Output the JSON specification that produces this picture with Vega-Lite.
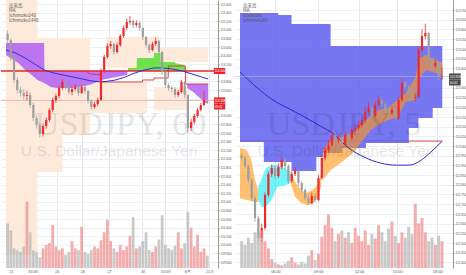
{
"$schema": "https://vega.github.io/schema/vega-lite/v6.json",
"autosize": {"type": "pad"},
"padding": 0,
"background": "white",
"spacing": 0,
"config": {"view": {"stroke": null}, "font": "Liberation Sans", "axis": {"labelOverlap": false, "labelFlush": false, "labelBound": false}},
"datasets": {
"L": [
{"i":0,"o":114.9,"c":114.763,"h":114.98,"l":114.70,"v":50},
{"i":1,"o":114.763,"c":114.344,"h":114.80,"l":114.28,"v":42},
{"i":2,"o":114.344,"c":113.833,"h":114.40,"l":113.76,"v":22},
{"i":3,"o":113.833,"c":113.6,"h":113.90,"l":113.52,"v":20},
{"i":4,"o":113.6,"c":113.53,"h":113.68,"l":113.45,"v":18},
{"i":5,"o":113.53,"c":113.46,"h":113.62,"l":113.38,"v":24},
{"i":6,"o":113.46,"c":113.484,"h":113.58,"l":113.36,"v":74},
{"i":7,"o":113.484,"c":113.251,"h":113.55,"l":113.18,"v":40},
{"i":8,"o":113.251,"c":112.949,"h":113.30,"l":112.88,"v":20},
{"i":9,"o":112.949,"c":112.786,"h":113.02,"l":112.70,"v":18},
{"i":10,"o":112.786,"c":112.577,"h":112.84,"l":112.50,"v":12},
{"i":11,"o":112.577,"c":112.763,"h":112.82,"l":112.52,"v":22},
{"i":12,"o":112.763,"c":112.902,"h":112.96,"l":112.70,"v":26},
{"i":13,"o":112.902,"c":113.135,"h":113.18,"l":112.86,"v":28},
{"i":14,"o":113.135,"c":113.367,"h":113.42,"l":113.08,"v":48},
{"i":15,"o":113.367,"c":113.46,"h":113.52,"l":113.30,"v":24},
{"i":16,"o":113.46,"c":113.646,"h":113.70,"l":113.40,"v":20},
{"i":17,"o":113.646,"c":113.786,"h":113.86,"l":113.60,"v":22},
{"i":18,"o":113.786,"c":113.67,"h":113.82,"l":113.62,"v":15},
{"i":19,"o":113.67,"c":113.553,"h":113.72,"l":113.50,"v":18},
{"i":20,"o":113.553,"c":113.623,"h":113.68,"l":113.48,"v":30},
{"i":21,"o":113.623,"c":113.67,"h":113.74,"l":113.58,"v":22},
{"i":22,"o":113.67,"c":113.53,"h":113.70,"l":113.46,"v":20},
{"i":23,"o":113.53,"c":113.67,"h":113.72,"l":113.50,"v":46},
{"i":24,"o":113.67,"c":113.577,"h":113.71,"l":113.52,"v":18},
{"i":25,"o":113.577,"c":113.344,"h":113.60,"l":113.28,"v":16},
{"i":26,"o":113.344,"c":113.205,"h":113.38,"l":113.14,"v":20},
{"i":27,"o":113.205,"c":113.274,"h":113.33,"l":113.16,"v":24},
{"i":28,"o":113.274,"c":113.367,"h":113.42,"l":113.22,"v":22},
{"i":29,"o":113.367,"c":114.065,"h":114.10,"l":113.34,"v":31},
{"i":30,"o":114.065,"c":114.367,"h":114.42,"l":114.00,"v":40},
{"i":31,"o":114.367,"c":114.623,"h":114.68,"l":114.33,"v":54},
{"i":32,"o":114.623,"c":114.67,"h":114.74,"l":114.56,"v":30},
{"i":33,"o":114.67,"c":114.484,"h":114.70,"l":114.42,"v":22},
{"i":34,"o":114.484,"c":114.646,"h":114.70,"l":114.45,"v":18},
{"i":35,"o":114.646,"c":114.856,"h":114.90,"l":114.60,"v":26},
{"i":36,"o":114.856,"c":115.042,"h":115.10,"l":114.82,"v":20},
{"i":37,"o":115.042,"c":115.181,"h":115.26,"l":115.00,"v":24},
{"i":38,"o":115.181,"c":115.205,"h":115.32,"l":115.12,"v":36},
{"i":39,"o":115.205,"c":115.112,"h":115.24,"l":115.04,"v":57},
{"i":40,"o":115.112,"c":115.158,"h":115.22,"l":115.06,"v":22},
{"i":41,"o":115.158,"c":115.042,"h":115.20,"l":114.98,"v":24},
{"i":42,"o":115.042,"c":114.833,"h":115.06,"l":114.76,"v":30},
{"i":43,"o":114.833,"c":114.646,"h":114.86,"l":114.58,"v":40},
{"i":44,"o":114.646,"c":114.53,"h":114.68,"l":114.46,"v":20},
{"i":45,"o":114.53,"c":114.67,"h":114.72,"l":114.50,"v":18},
{"i":46,"o":114.67,"c":114.74,"h":114.82,"l":114.62,"v":24},
{"i":47,"o":114.74,"c":114.484,"h":114.76,"l":114.42,"v":32},
{"i":48,"o":114.484,"c":114.019,"h":114.50,"l":113.95,"v":59},
{"i":49,"o":114.019,"c":113.716,"h":114.05,"l":113.64,"v":26},
{"i":50,"o":113.716,"c":113.646,"h":113.76,"l":113.58,"v":22},
{"i":51,"o":113.646,"c":113.623,"h":113.70,"l":113.55,"v":20},
{"i":52,"o":113.623,"c":113.484,"h":113.66,"l":113.42,"v":25},
{"i":53,"o":113.484,"c":113.553,"h":113.60,"l":113.44,"v":40},
{"i":54,"o":113.553,"c":113.786,"h":113.84,"l":113.52,"v":22},
{"i":55,"o":113.786,"c":113.484,"h":113.80,"l":113.40,"v":28},
{"i":56,"o":113.484,"c":112.716,"h":113.50,"l":112.60,"v":63},
{"i":57,"o":112.716,"c":112.856,"h":112.92,"l":112.64,"v":45},
{"i":58,"o":112.856,"c":112.995,"h":113.05,"l":112.80,"v":24},
{"i":59,"o":112.995,"c":113.135,"h":113.18,"l":112.95,"v":37},
{"i":60,"o":113.135,"c":113.251,"h":113.30,"l":113.10,"v":18},
{"i":61,"o":113.251,"c":113.367,"h":113.58,"l":113.22,"v":22},
{"i":62,"o":113.367,"c":113.358,"h":113.40,"l":113.30,"v":14}
],
"R": [
{"j":0,"o":112.95,"c":112.938,"h":112.965,"l":112.925,"v":30},
{"j":1,"o":112.938,"c":112.896,"h":112.95,"l":112.885,"v":26},
{"j":2,"o":112.896,"c":112.824,"h":112.905,"l":112.81,"v":34},
{"j":3,"o":112.824,"c":112.731,"h":112.835,"l":112.715,"v":28},
{"j":4,"o":112.731,"c":112.628,"h":112.745,"l":112.61,"v":40},
{"j":5,"o":112.628,"c":112.525,"h":112.64,"l":112.51,"v":38},
{"j":6,"o":112.525,"c":112.577,"h":112.6,"l":112.505,"v":42},
{"j":7,"o":112.577,"c":112.747,"h":112.76,"l":112.565,"v":30},
{"j":8,"o":112.747,"c":112.855,"h":112.87,"l":112.735,"v":22},
{"j":9,"o":112.855,"c":112.886,"h":112.905,"l":112.84,"v":10},
{"j":10,"o":112.886,"c":112.845,"h":112.9,"l":112.83,"v":6},
{"j":11,"o":112.845,"c":112.891,"h":112.91,"l":112.835,"v":4},
{"j":12,"o":112.891,"c":112.927,"h":112.945,"l":112.88,"v":3},
{"j":13,"o":112.927,"c":112.896,"h":112.94,"l":112.88,"v":5},
{"j":14,"o":112.896,"c":112.819,"h":112.905,"l":112.805,"v":8},
{"j":15,"o":112.819,"c":112.855,"h":112.87,"l":112.81,"v":12},
{"j":16,"o":112.855,"c":112.871,"h":112.89,"l":112.845,"v":6},
{"j":17,"o":112.871,"c":112.809,"h":112.88,"l":112.795,"v":4},
{"j":18,"o":112.809,"c":112.773,"h":112.82,"l":112.76,"v":7},
{"j":19,"o":112.773,"c":112.731,"h":112.785,"l":112.72,"v":5},
{"j":20,"o":112.731,"c":112.706,"h":112.75,"l":112.695,"v":14},
{"j":21,"o":112.706,"c":112.742,"h":112.76,"l":112.7,"v":20},
{"j":22,"o":112.742,"c":112.721,"h":112.755,"l":112.71,"v":9},
{"j":23,"o":112.721,"c":112.835,"h":112.85,"l":112.715,"v":16},
{"j":24,"o":112.835,"c":112.938,"h":112.95,"l":112.825,"v":35},
{"j":25,"o":112.938,"c":112.979,"h":112.995,"l":112.925,"v":48},
{"j":26,"o":112.979,"c":113.005,"h":113.03,"l":112.965,"v":60},
{"j":27,"o":113.005,"c":113.056,"h":113.08,"l":112.995,"v":45},
{"j":28,"o":113.056,"c":113.03,"h":113.07,"l":113.015,"v":30},
{"j":29,"o":113.03,"c":113.04,"h":113.06,"l":113.015,"v":38},
{"j":30,"o":113.04,"c":113.005,"h":113.05,"l":112.99,"v":42},
{"j":31,"o":113.005,"c":113.056,"h":113.075,"l":112.995,"v":34},
{"j":32,"o":113.056,"c":113.041,"h":113.07,"l":113.025,"v":40},
{"j":33,"o":113.041,"c":113.082,"h":113.1,"l":113.03,"v":28},
{"j":34,"o":113.082,"c":113.092,"h":113.11,"l":113.07,"v":45},
{"j":35,"o":113.092,"c":113.108,"h":113.13,"l":113.08,"v":36},
{"j":36,"o":113.108,"c":113.133,"h":113.15,"l":113.095,"v":30},
{"j":37,"o":113.133,"c":113.175,"h":113.2,"l":113.12,"v":42},
{"j":38,"o":113.175,"c":113.195,"h":113.225,"l":113.16,"v":26},
{"j":39,"o":113.195,"c":113.154,"h":113.205,"l":113.14,"v":38},
{"j":40,"o":113.154,"c":113.211,"h":113.23,"l":113.145,"v":33},
{"j":41,"o":113.211,"c":113.237,"h":113.26,"l":113.2,"v":48},
{"j":42,"o":113.237,"c":113.216,"h":113.25,"l":113.2,"v":40},
{"j":43,"o":113.216,"c":113.185,"h":113.225,"l":113.17,"v":30},
{"j":44,"o":113.185,"c":113.17,"h":113.2,"l":113.155,"v":44},
{"j":45,"o":113.17,"c":113.185,"h":113.205,"l":113.16,"v":52},
{"j":46,"o":113.185,"c":113.144,"h":113.195,"l":113.13,"v":36},
{"j":47,"o":113.144,"c":113.237,"h":113.25,"l":113.135,"v":28},
{"j":48,"o":113.237,"c":113.324,"h":113.345,"l":113.225,"v":40},
{"j":49,"o":113.324,"c":113.304,"h":113.335,"l":113.29,"v":34},
{"j":50,"o":113.304,"c":113.288,"h":113.315,"l":113.27,"v":46},
{"j":51,"o":113.288,"c":113.247,"h":113.3,"l":113.235,"v":38},
{"j":52,"o":113.247,"c":113.252,"h":113.27,"l":113.23,"v":72},
{"j":53,"o":113.252,"c":113.494,"h":113.51,"l":113.245,"v":50},
{"j":54,"o":113.494,"c":113.566,"h":113.6,"l":113.48,"v":56},
{"j":55,"o":113.566,"c":113.582,"h":113.63,"l":113.55,"v":40},
{"j":56,"o":113.582,"c":113.443,"h":113.59,"l":113.43,"v":30},
{"j":57,"o":113.443,"c":113.412,"h":113.455,"l":113.395,"v":34},
{"j":58,"o":113.412,"c":113.427,"h":113.445,"l":113.4,"v":26},
{"j":59,"o":113.427,"c":113.355,"h":113.435,"l":113.335,"v":36},
{"j":60,"o":113.355,"c":113.358,"h":113.405,"l":113.34,"v":30}
],
"Lpeach": [
{"x1":-0.5,"x2":9.28,"t":115.693,"b":109.763},
{"x1":9.28,"x2":16.98,"t":114.809,"b":111.693},
{"x1":16.98,"x2":25.57,"t":114.809,"b":112.553},
{"x1":25.57,"x2":43.35,"t":113.786,"b":113.065},
{"x1":30.61,"x2":47.5,"t":114.833,"b":114.112},
{"x1":42.46,"x2":62.31,"t":114.577,"b":114.251},
{"x1":45.43,"x2":56.39,"t":113.67,"b":113.135}
],
"Lpurple": [
{"seg":"a","x":-0.5,"t":114.693,"b":114.414},
{"seg":"a","x":3.35,"t":114.693,"b":114.228},
{"seg":"a","x":5.43,"t":114.693,"b":114.065},
{"seg":"a","x":7.5,"t":114.693,"b":113.949},
{"seg":"a","x":9.28,"t":114.693,"b":113.833},
{"seg":"a","x":11.35,"t":114.693,"b":113.763},
{"seg":"a","x":11.44,"t":114.042,"b":113.763},
{"seg":"a","x":13.43,"t":114.042,"b":113.67},
{"seg":"a","x":15.2,"t":114.042,"b":113.647},
{"seg":"a","x":19.35,"t":114.042,"b":113.647},
{"seg":"a","x":22.31,"t":114.042,"b":113.67},
{"seg":"a","x":25.28,"t":114.042,"b":113.716},
{"seg":"a","x":27.06,"t":114.042,"b":113.763},
{"seg":"a","x":29.13,"t":114.042,"b":113.833},
{"seg":"a","x":32.09,"t":114.042,"b":113.879},
{"seg":"a","x":37.13,"t":114.042,"b":113.949},
{"seg":"b","x":55.8,"t":113.74,"b":113.647},
{"seg":"b","x":57.57,"t":113.74,"b":113.56},
{"seg":"b","x":59.35,"t":113.74,"b":113.437},
{"seg":"b","x":61.13,"t":113.74,"b":113.321},
{"seg":"b","x":62.31,"t":113.74,"b":113.274}
],
"Lgreen": [
{"x":37.43,"t":114.112,"b":114.042},
{"x":40.09,"t":114.112,"b":114.042},
{"x":40.18,"t":114.344,"b":114.042},
{"x":45.43,"t":114.344,"b":114.042},
{"x":45.51,"t":114.46,"b":114.042},
{"x":47.5,"t":114.46,"b":114.042},
{"x":47.59,"t":114.251,"b":114.042},
{"x":51.94,"t":114.251,"b":114.042},
{"x":52.03,"t":114.228,"b":114.042},
{"x":54.91,"t":114.181,"b":114.042},
{"x":55.5,"t":114.042,"b":114.042}
],
"Lred": [
{"x":24.69,"p":114.019},{"x":25.57,"p":113.972},{"x":29.13,"p":113.949},{"x":29.22,"p":113.786},
{"x":41.87,"p":113.786},{"x":41.96,"p":113.833},{"x":45.43,"p":113.833},{"x":45.51,"p":113.879},
{"x":49.87,"p":113.879},{"x":49.96,"p":114.158},{"x":55.2,"p":114.158},{"x":55.29,"p":113.74},
{"x":62.31,"p":113.74}
],
"Lma": [
{"x":-0.5,"p":114.53},{"x":2.46,"p":114.46},{"x":5.43,"p":114.344},{"x":8.39,"p":114.205},
{"x":11.35,"p":114.065},{"x":14.31,"p":113.995},{"x":17.28,"p":113.949},{"x":20.24,"p":113.902},
{"x":23.2,"p":113.856},{"x":26.17,"p":113.809},{"x":29.13,"p":113.786},{"x":31.5,"p":113.809},
{"x":33.57,"p":113.833},{"x":36.54,"p":113.902},{"x":39.5,"p":113.995},{"x":42.46,"p":114.065},
{"x":45.43,"p":114.112},{"x":48.39,"p":114.112},{"x":51.35,"p":114.088},{"x":54.31,"p":114.042},
{"x":57.28,"p":113.972},{"x":60.24,"p":113.902},{"x":62.31,"p":113.856}
],
"Rblue": [
{"x":-0.5,"t":113.685,"b":113.02},
{"x":6.64,"t":113.685,"b":112.917},
{"x":10.93,"t":113.675,"b":112.917},
{"x":14.93,"t":113.628,"b":112.871},
{"x":22.36,"t":113.628,"b":112.943},
{"x":24.36,"t":113.628,"b":112.963},
{"x":26.64,"t":113.515,"b":112.963},
{"x":30.07,"t":113.515,"b":112.989},
{"x":37.21,"t":113.515,"b":113.015},
{"x":50.07,"t":113.515,"b":113.092},
{"x":52.93,"t":113.515,"b":113.144},
{"x":57.21,"t":113.515,"b":113.195},
{"x":60.07,"t":113.515,"b":113.195}
],
"Rorange": [
{"seg":"a","x":-0.5,"t":112.989,"b":112.731},
{"seg":"a","x":1.5,"t":112.979,"b":112.721},
{"seg":"a","x":2.93,"t":112.927,"b":112.716},
{"seg":"a","x":3.79,"t":112.84,"b":112.711},
{"seg":"a","x":4.93,"t":112.773,"b":112.711},
{"seg":"b","x":14.64,"t":112.865,"b":112.809},
{"seg":"b","x":16.07,"t":112.814,"b":112.737},
{"seg":"b","x":17.79,"t":112.773,"b":112.706},
{"seg":"b","x":19.5,"t":112.757,"b":112.695},
{"seg":"b","x":21.21,"t":112.773,"b":112.7},
{"seg":"b","x":22.64,"t":112.798,"b":112.731},
{"seg":"b","x":23.79,"t":112.85,"b":112.788},
{"seg":"c","x":24.36,"t":112.979,"b":112.824},
{"seg":"c","x":26.64,"t":113.03,"b":112.876},
{"seg":"c","x":30.07,"t":113.046,"b":112.917},
{"seg":"c","x":33.5,"t":113.066,"b":112.968},
{"seg":"c","x":36.36,"t":113.123,"b":113.03},
{"seg":"c","x":38.64,"t":113.154,"b":113.082},
{"seg":"c","x":40.93,"t":113.185,"b":113.108},
{"seg":"c","x":43.79,"t":113.195,"b":113.133},
{"seg":"c","x":46.64,"t":113.237,"b":113.149},
{"seg":"c","x":49.21,"t":113.273,"b":113.226},
{"seg":"c","x":52.07,"t":113.355,"b":113.237},
{"seg":"c","x":53.21,"t":113.453,"b":113.35},
{"seg":"c","x":55.21,"t":113.468,"b":113.391},
{"seg":"c","x":57.21,"t":113.453,"b":113.381},
{"seg":"c","x":60.07,"t":113.427,"b":113.365}
],
"Rcyan": [
{"x":4.93,"t":112.788,"b":112.721},
{"x":6.07,"t":112.834,"b":112.685},
{"x":7.21,"t":112.886,"b":112.685},
{"x":8.93,"t":112.901,"b":112.721},
{"x":10.64,"t":112.901,"b":112.788},
{"x":12.93,"t":112.886,"b":112.798},
{"x":14.64,"t":112.865,"b":112.809}
],
"Rma": [
{"x":-0.5,"p":113.381},{"x":8.07,"p":113.252},{"x":17.79,"p":113.159},{"x":23.5,"p":113.103},
{"x":27.21,"p":113.066},{"x":32.07,"p":112.989},{"x":36.64,"p":112.943},{"x":41.5,"p":112.912},
{"x":46.36,"p":112.901},{"x":50.07,"p":112.901},{"x":53.79,"p":112.927},{"x":56.64,"p":112.968},
{"x":60.07,"p":113.025}
]
},
"hconcat": [
{
"width": 217, "height": 268,
"resolve": {"scale": {"y": "independent"}},
"layer": [
{
"layer": [
{"data": {"name": "Lpeach"}, "mark": {"type": "rect", "color": "#fdeadb"},
 "encoding": {"x": {"field": "x1", "type": "quantitative", "scale": {"domain": [-0.5, 63.8], "nice": false, "zero": false}}, "x2": {"field": "x2"},
  "y": {"field": "t", "type": "quantitative", "scale": {"domain": [109.46, 115.693], "nice": false, "zero": false}}, "y2": {"field": "b"}}},
{"data": {"name": "Lgreen"}, "mark": {"type": "area", "color": "#5fe03c", "opacity": 0.9},
 "encoding": {"x": {"field": "x", "type": "quantitative", "scale": {"domain": [-0.5, 63.8], "nice": false, "zero": false}}, "y": {"field": "t", "type": "quantitative", "scale": {"domain": [109.46, 115.693], "nice": false, "zero": false}}, "y2": {"field": "b"}}},
{"data": {"name": "Lpurple"}, "mark": {"type": "area", "color": "#a64df5", "opacity": 0.75},
 "encoding": {"x": {"field": "x", "type": "quantitative", "scale": {"domain": [-0.5, 63.8], "nice": false, "zero": false}}, "y": {"field": "t", "type": "quantitative", "scale": {"domain": [109.46, 115.693], "nice": false, "zero": false}}, "y2": {"field": "b"}, "detail": {"field": "seg"}}},
{"data": {"values": [{"label": "USDJPY, 60"}]}, "mark": {"type": "text", "font": "Liberation Sans Narrow", "fontSize": 34, "color": "#000000", "opacity": 0.09, "align": "center", "baseline": "middle"},
 "encoding": {"text": {"field": "label"}, "x": {"datum": 35.06, "type": "quantitative", "scale": {"domain": [-0.5, 63.8], "nice": false, "zero": false}}, "y": {"datum": 112.786, "type": "quantitative", "scale": {"domain": [109.46, 115.693], "nice": false, "zero": false}}}},
{"data": {"values": [{"label": "U.S. Dollar/Japanese Yen"}]}, "mark": {"type": "text", "font": "Liberation Sans", "fontSize": 15.5, "color": "#000000", "opacity": 0.09, "align": "center", "baseline": "middle"},
 "encoding": {"text": {"field": "label"}, "x": {"datum": 31.5, "type": "quantitative", "scale": {"domain": [-0.5, 63.8], "nice": false, "zero": false}}, "y": {"datum": 112.181, "type": "quantitative", "scale": {"domain": [109.46, 115.693], "nice": false, "zero": false}}}},
{"data": {"values": [{}]}, "mark": {"type": "rule", "color": "#e8262a", "strokeWidth": 1.6}, "encoding": {"y": {"datum": 114.042, "type": "quantitative", "scale": {"domain": [109.46, 115.693], "nice": false, "zero": false}}}},
{"data": {"values": [{}]}, "mark": {"type": "rule", "color": "#f6b3b3", "strokeWidth": 1}, "encoding": {"y": {"datum": 113.358, "type": "quantitative", "scale": {"domain": [109.46, 115.693], "nice": false, "zero": false}}}},
{"data": {"name": "Lred"}, "mark": {"type": "line", "color": "#e0303a", "strokeWidth": 0.9},
 "encoding": {"x": {"field": "x", "type": "quantitative", "scale": {"domain": [-0.5, 63.8], "nice": false, "zero": false}}, "y": {"field": "p", "type": "quantitative", "scale": {"domain": [109.46, 115.693], "nice": false, "zero": false}}}},
{"data": {"name": "Lma"}, "mark": {"type": "line", "color": "#3030d8", "strokeWidth": 1},
 "encoding": {"x": {"field": "x", "type": "quantitative", "scale": {"domain": [-0.5, 63.8], "nice": false, "zero": false}}, "y": {"field": "p", "type": "quantitative", "scale": {"domain": [109.46, 115.693], "nice": false, "zero": false}}}},
{"data": {"name": "L"}, "mark": {"type": "rule", "strokeWidth": 0.8},
 "encoding": {
  "x": {"field": "i", "type": "quantitative", "scale": {"domain": [-0.5, 63.8], "nice": false, "zero": false}, "axis": {"title": null, "tickCount": 200, "values": [1, 7.8, 15.2, 23.2, 31.5, 41.9, 49, 55.8, 62.6], "labelExpr": "['23','03:00','25','26','27','30','03:00','6月','21:0'][indexof([1,7.8,15.2,23.2,31.5,41.9,49,55.8,62.6], datum.value)]", "grid": true, "gridColor": "#e2e7f0", "ticks": false, "domain": false, "labelFontSize": 3.8, "labelColor": "#555555", "labelPadding": 1, "labelFlush": false, "labelOverlap": false, "labelFont": "Noto Sans CJK JP"}},
  "y": {"field": "l", "type": "quantitative", "scale": {"domain": [109.46, 115.693], "nice": false, "zero": false}, "axis": {"title": null, "orient": "right", "tickCount": 200, "values": [109.6,109.8,110,110.2,110.4,110.6,110.8,111,111.2,111.4,111.6,111.8,112,112.2,112.4,112.6,112.8,113,113.2,113.4,113.6,113.8,114,114.2,114.4,114.6,114.8,115,115.2,115.4,115.6], "format": ".3f", "labelExpr": "indexof([114,113.4,113.2], datum.value) >= 0 ? '' : datum.label", "grid": true, "gridColor": "#edf0f5", "labelFontSize": 3.1, "labelColor": "#555555", "labelOverlap": false, "labelBound": false, "labelFlush": false, "tickSize": 1.2, "tickColor": "#999999", "domainColor": "#999999", "labelPadding": 0.8, "minExtent": 16, "maxExtent": 16}},
  "y2": {"field": "h"},
  "color": {"condition": {"test": "datum.c >= datum.o", "value": "#f0282d"}, "value": "#9e9e9e"}}},
{"data": {"name": "L"}, "mark": {"type": "bar", "size": 2.2},
 "encoding": {"x": {"field": "i", "type": "quantitative", "scale": {"domain": [-0.5, 63.8], "nice": false, "zero": false}}, "y": {"field": "o", "type": "quantitative", "scale": {"domain": [109.46, 115.693], "nice": false, "zero": false}}, "y2": {"field": "c"},
  "color": {"condition": {"test": "datum.c >= datum.o", "value": "#f0282d"}, "value": "#9e9e9e"}}},
{"data": {"values": [{"t": "114.040", "p": 114.042}, {"t": "113.358", "p": 113.358}, {"t": "59:42", "p": 113.216}]},
 "layer": [
  {"mark": {"type": "rect", "color": "#e8262a", "yOffset": -3, "y2Offset": 3}, "encoding": {"x": {"datum": 64.1, "type": "quantitative", "scale": {"domain": [-0.5, 63.8], "nice": false, "zero": false}}, "x2": {"datum": 67.6}, "y": {"field": "p", "type": "quantitative", "scale": {"domain": [109.46, 115.693], "nice": false, "zero": false}}, "y2": {"field": "p"}}},
  {"mark": {"type": "text", "color": "white", "fontSize": 3.1, "align": "left", "baseline": "middle"}, "encoding": {"x": {"datum": 64.3, "type": "quantitative", "scale": {"domain": [-0.5, 63.8], "nice": false, "zero": false}}, "y": {"field": "p", "type": "quantitative", "scale": {"domain": [109.46, 115.693], "nice": false, "zero": false}}, "text": {"field": "t"}}}
 ]},
{"data": {"values": [{}]}, "mark": {"type": "text", "text": ["出来高", "MA", "Ichimoku240", "Ichimoku1440"], "font": "Noto Sans CJK JP", "fontSize": 4.5, "lineHeight": 5.3, "color": "#555555", "align": "left", "baseline": "top", "dx": 3, "dy": 2.5},
 "encoding": {"x": {"datum": -0.5, "type": "quantitative", "scale": {"domain": [-0.5, 63.8], "nice": false, "zero": false}}, "y": {"datum": 115.693, "type": "quantitative", "scale": {"domain": [109.46, 115.693], "nice": false, "zero": false}}}}
]
},
{"data": {"name": "L"}, "mark": {"type": "bar", "size": 2.8, "opacity": 0.7},
 "encoding": {"x": {"field": "i", "type": "quantitative", "scale": {"domain": [-0.5, 63.8], "nice": false, "zero": false}}, "y": {"field": "v", "type": "quantitative", "scale": {"domain": [0, 300]}, "axis": null},
  "color": {"condition": {"test": "datum.c >= datum.o", "value": "#f08a8a"}, "value": "#b3b3b3"}}}
]
},
{
"width": 218, "height": 268,
"resolve": {"scale": {"y": "independent"}},
"layer": [
{
"layer": [
{"data": {"values": [{}]}, "mark": {"type": "rule", "color": "#e84040", "strokeWidth": 1},
 "encoding": {"x": {"datum": -0.5, "type": "quantitative", "scale": {"domain": [-0.5, 61.79], "nice": false, "zero": false}}, "x2": {"datum": 60.07}, "y": {"datum": 113.025, "type": "quantitative", "scale": {"domain": [112.371, 113.752], "nice": false, "zero": false}}}},
{"data": {"name": "Rblue"}, "mark": {"type": "area", "interpolate": "step-after", "color": "#5f5ff0", "opacity": 0.85},
 "encoding": {"x": {"field": "x", "type": "quantitative", "scale": {"domain": [-0.5, 61.79], "nice": false, "zero": false}}, "y": {"field": "t", "type": "quantitative", "scale": {"domain": [112.371, 113.752], "nice": false, "zero": false}}, "y2": {"field": "b"}}},
{"data": {"name": "Rcyan"}, "mark": {"type": "area", "color": "#33f0f5", "opacity": 0.7},
 "encoding": {"x": {"field": "x", "type": "quantitative", "scale": {"domain": [-0.5, 61.79], "nice": false, "zero": false}}, "y": {"field": "t", "type": "quantitative", "scale": {"domain": [112.371, 113.752], "nice": false, "zero": false}}, "y2": {"field": "b"}}},
{"data": {"name": "Rorange"}, "mark": {"type": "area", "color": "#ff9a1a", "opacity": 0.62},
 "encoding": {"x": {"field": "x", "type": "quantitative", "scale": {"domain": [-0.5, 61.79], "nice": false, "zero": false}}, "y": {"field": "t", "type": "quantitative", "scale": {"domain": [112.371, 113.752], "nice": false, "zero": false}}, "y2": {"field": "b"}, "detail": {"field": "seg"}}},
{"data": {"values": [{"label": "USDJPY, 5"}]}, "mark": {"type": "text", "font": "Liberation Sans Narrow", "fontSize": 34, "color": "#000000", "opacity": 0.09, "align": "center", "baseline": "middle"},
 "encoding": {"text": {"field": "label"}, "x": {"datum": 30.64, "type": "quantitative", "scale": {"domain": [-0.5, 61.79], "nice": false, "zero": false}}, "y": {"datum": 113.108, "type": "quantitative", "scale": {"domain": [112.371, 113.752], "nice": false, "zero": false}}}},
{"data": {"values": [{"label": "U.S. Dollar/Japanese Yen"}]}, "mark": {"type": "text", "font": "Liberation Sans", "fontSize": 15.5, "color": "#000000", "opacity": 0.09, "align": "center", "baseline": "middle"},
 "encoding": {"text": {"field": "label"}, "x": {"datum": 31.21, "type": "quantitative", "scale": {"domain": [-0.5, 61.79], "nice": false, "zero": false}}, "y": {"datum": 112.974, "type": "quantitative", "scale": {"domain": [112.371, 113.752], "nice": false, "zero": false}}}},
{"data": {"name": "Rma"}, "mark": {"type": "line", "color": "#2a2ad6", "strokeWidth": 1, "interpolate": "monotone"},
 "encoding": {"x": {"field": "x", "type": "quantitative", "scale": {"domain": [-0.5, 61.79], "nice": false, "zero": false}}, "y": {"field": "p", "type": "quantitative", "scale": {"domain": [112.371, 113.752], "nice": false, "zero": false}}}},
{"data": {"values": [{}]}, "mark": {"type": "rule", "color": "#bbbbbb", "strokeWidth": 0.6}, "encoding": {"y": {"datum": 113.358, "type": "quantitative", "scale": {"domain": [112.371, 113.752], "nice": false, "zero": false}}}},
{"data": {"name": "R"}, "mark": {"type": "rule", "strokeWidth": 0.8},
 "encoding": {
  "x": {"field": "j", "type": "quantitative", "scale": {"domain": [-0.5, 61.79], "nice": false, "zero": false}, "axis": {"title": null, "tickCount": 200, "values": [10.1, 22.9, 35.2, 46.6, 58.6], "labelExpr": "['06:00','09:00','12:00','15:00','18:00'][indexof([10.1,22.9,35.2,46.6,58.6], datum.value)]", "grid": true, "gridColor": "#e2e7f0", "ticks": false, "domain": false, "labelFontSize": 3.8, "labelColor": "#555555", "labelPadding": 1, "labelFlush": false, "labelOverlap": false}},
  "y": {"field": "l", "type": "quantitative", "scale": {"domain": [112.371, 113.752], "nice": false, "zero": false}, "axis": {"title": null, "orient": "right", "tickCount": 200, "values": [112.4,112.45,112.5,112.55,112.6,112.65,112.7,112.75,112.8,112.85,112.9,112.95,113,113.05,113.1,113.15,113.2,113.25,113.3,113.35,113.4,113.45,113.5,113.55,113.6,113.65,113.7], "format": ".3f", "labelExpr": "datum.value == 113.35 ? '' : datum.label", "grid": true, "gridColor": "#edf0f5", "labelFontSize": 3.1, "labelColor": "#555555", "labelOverlap": false, "labelBound": false, "labelFlush": false, "tickSize": 1.2, "tickColor": "#999999", "domainColor": "#999999", "labelPadding": 0.8, "minExtent": 15, "maxExtent": 15}},
  "y2": {"field": "h"},
  "color": {"condition": {"test": "datum.c >= datum.o", "value": "#f0282d"}, "value": "#9e9e9e"}}},
{"data": {"name": "R"}, "mark": {"type": "bar", "size": 2.2},
 "encoding": {"x": {"field": "j", "type": "quantitative", "scale": {"domain": [-0.5, 61.79], "nice": false, "zero": false}}, "y": {"field": "o", "type": "quantitative", "scale": {"domain": [112.371, 113.752], "nice": false, "zero": false}}, "y2": {"field": "c"},
  "color": {"condition": {"test": "datum.c >= datum.o", "value": "#f0282d"}, "value": "#9e9e9e"}}},
{"data": {"values": [{"t": "113.358", "p": 113.358}, {"t": "00:42", "p": 113.327}]},
 "layer": [
  {"mark": {"type": "rect", "color": "#4a4a4a", "yOffset": -3, "y2Offset": 3}, "encoding": {"x": {"datum": 62.1, "type": "quantitative", "scale": {"domain": [-0.5, 61.79], "nice": false, "zero": false}}, "x2": {"datum": 65.6}, "y": {"field": "p", "type": "quantitative", "scale": {"domain": [112.371, 113.752], "nice": false, "zero": false}}, "y2": {"field": "p"}}},
  {"mark": {"type": "text", "color": "white", "fontSize": 3.1, "align": "left", "baseline": "middle"}, "encoding": {"x": {"datum": 62.3, "type": "quantitative", "scale": {"domain": [-0.5, 61.79], "nice": false, "zero": false}}, "y": {"field": "p", "type": "quantitative", "scale": {"domain": [112.371, 113.752], "nice": false, "zero": false}}, "text": {"field": "t"}}}
 ]},
{"data": {"values": [{}]}, "mark": {"type": "text", "text": ["出来高", "MA", "Ichimoku", "Ichimoku60"], "font": "Noto Sans CJK JP", "fontSize": 4.5, "lineHeight": 5.3, "color": "#555555", "align": "left", "baseline": "top", "dx": 3, "dy": 2.5},
 "encoding": {"x": {"datum": -0.5, "type": "quantitative", "scale": {"domain": [-0.5, 61.79], "nice": false, "zero": false}}, "y": {"datum": 113.752, "type": "quantitative", "scale": {"domain": [112.371, 113.752], "nice": false, "zero": false}}}}
]
},
{"data": {"name": "R"}, "mark": {"type": "bar", "size": 3, "opacity": 0.7},
 "encoding": {"x": {"field": "j", "type": "quantitative", "scale": {"domain": [-0.5, 61.79], "nice": false, "zero": false}}, "y": {"field": "v", "type": "quantitative", "scale": {"domain": [0, 300]}, "axis": null},
  "color": {"condition": {"test": "datum.c >= datum.o", "value": "#f08a8a"}, "value": "#b3b3b3"}}}
]
}
]
}
